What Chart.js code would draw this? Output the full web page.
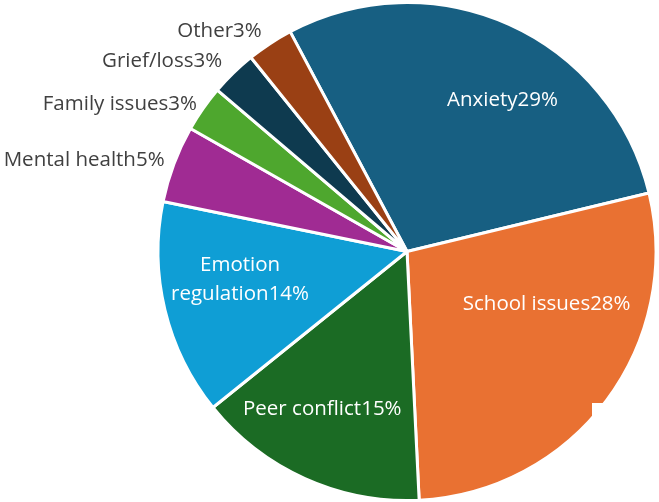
<!DOCTYPE html>
<html>
<head>
<meta charset="utf-8">
<script src="https://cdn.jsdelivr.net/npm/chart.js@4.4.0/dist/chart.umd.min.js"></script>
<style>
  html, body { margin: 0; padding: 0; background: #fff; }
  #wrap { width: 659px; height: 502px; }
</style>
</head>
<body>
<div id="wrap"><canvas id="pieChart" width="659" height="502"></canvas></div>
<script>
// pie data
var categories = ['Anxiety', 'School issues', 'Peer conflict', 'Emotion regulation',
    'Mental health', 'Family issues', 'Grief/loss', 'Other'];
var percents = [29, 28, 15, 14, 5, 3, 3, 3];
var sliceColors = ['#175f82', '#e97132', '#1b6b24', '#0f9ed5', '#a02b93', '#4ea72e', '#0e3a4f', '#9a4014'];

// label placement: [angle shift in degrees, radius fraction, inside?]
var labelPlace = [
    [8, 0.72, true],
    [-16, 0.60, true],
    [4, 0.72, true],
    [4, 0.68, true],
    [0, 1.04, false],
    [0, 1.03, false],
    [0, 1.065, false],
    [0, 1.06, false]
];

var pieLabels = {
    id: 'pieLabels',
    afterDraw: function (chart) {
        var ctx = chart.ctx;
        var arcs = chart.getDatasetMeta(0).data;
        ctx.save();
        ctx.font = '20.5px "Open Sans", sans-serif';
        ctx.textBaseline = 'middle';
        arcs.forEach(function (arc, i) {
            var p = labelPlace[i];
            var mid = (arc.startAngle + arc.endAngle) / 2 + p[0] * Math.PI / 180;
            var r = arc.outerRadius * p[1];
            var x = arc.x + Math.cos(mid) * r;
            var y = arc.y + Math.sin(mid) * r;
            var txt = categories[i] + percents[i] + '%';
            if (p[2]) {
                ctx.fillStyle = '#ffffff';
                ctx.textAlign = 'center';
                if (i === 3) {
                    ctx.fillText('Emotion', x, y - 15);
                    ctx.fillText('regulation' + percents[i] + '%', x, y + 14);
                } else {
                    ctx.fillText(txt, x, y);
                }
            } else {
                ctx.fillStyle = '#404040';
                ctx.textAlign = 'right';
                ctx.fillText(txt, x, y);
            }
        });
        // small white patch seen on the original
        ctx.fillStyle = '#ffffff';
        ctx.fillRect(592, 403, 30, 20);
        ctx.restore();
    }
};

var ctx1 = document.getElementById('pieChart').getContext('2d');
var pieChart = new Chart(ctx1, {
    type: 'pie',
    data: {
        labels: categories,
        datasets: [{
            data: percents,
            backgroundColor: sliceColors,
            borderColor: '#ffffff',
            borderWidth: 3
        }]
    },
    options: {
        responsive: false,
        animation: false,
        rotation: -28,
        layout: {
            padding: { left: 155, right: 0, top: 1, bottom: 0 }
        },
        plugins: {
            legend: { display: false },
            tooltip: { enabled: false }
        }
    },
    plugins: [pieLabels]
});
</script>
</body>
</html>
